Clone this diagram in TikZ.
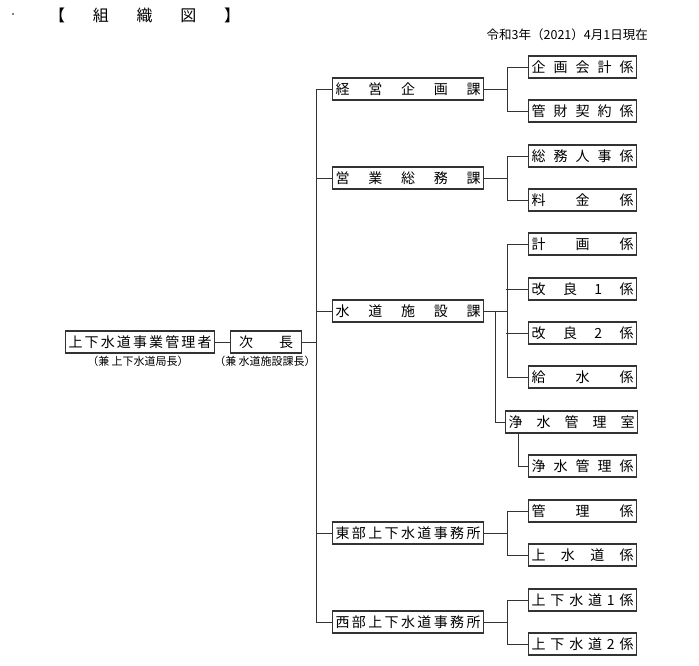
\documentclass[tikz,border=0pt]{standalone}
\usepackage{fontspec}
\usepackage{tikz}
\newfontfamily\jpfont{Noto Sans CJK JP}

\newcommand{\spread}[2]{\makebox[#1][s]{#2}}

\begin{document}
\begin{tikzpicture}[x=1pt,y=-1pt,
  waku/.style={draw=black!80, line width=1.2pt, anchor=west, inner sep=0pt,
    minimum height=22pt, font=\jpfont\fontsize{14}{14}\selectfont},
  ka/.style={waku, minimum width=151pt},
  kakari/.style={waku, minimum width=108pt},
  conn/.style={black!80, line width=1pt}]
\useasboundingbox (0,0) rectangle (699,665);

% 見出し
\fill (13,14) circle (0.8pt);
\node[anchor=west, inner sep=0pt, font=\jpfont\fontsize{16}{16}\selectfont] (title) at (49,15)
  {\spread{191pt}{【\hfill 組\hfill 織\hfill 図\hfill 】}};
\node[anchor=east, inner sep=0pt, font=\jpfont\fontsize{12.5}{12.5}\selectfont] (date) at (648,35)
  {令和3年（2021）4月1日現在};

% 左側
\node[waku, minimum width=149pt] (kanri0) at (65,342)
  {\spread{143pt}{上\hfill 下\hfill 水\hfill 道\hfill 事\hfill 業\hfill 管\hfill 理\hfill 者}};
\node[waku, minimum width=71pt] (jicho) at (230,342) {\spread{54pt}{次\hfill 長}};
\node[inner sep=0pt, font=\jpfont\fontsize{11}{11}\selectfont] (ken1) at (138,361) {（兼 上下水道局長）};
\node[inner sep=0pt, font=\jpfont\fontsize{11}{11}\selectfont] (ken2) at (265,361) {（兼 水道施設課長）};

% 課
\node[ka] (keiei) at (332,89) {\spread{145pt}{経\hfill 営\hfill 企\hfill 画\hfill 課}};
\node[ka] (eigyo) at (332,178) {\spread{145pt}{営\hfill 業\hfill 総\hfill 務\hfill 課}};
\node[ka] (shisetsu) at (332,311) {\spread{145pt}{水\hfill 道\hfill 施\hfill 設\hfill 課}};
\node[ka] (tobu) at (332,533) {\spread{145pt}{東\hfill 部\hfill 上\hfill 下\hfill 水\hfill 道\hfill 事\hfill 務\hfill 所}};
\node[ka] (seibu) at (332,622) {\spread{145pt}{西\hfill 部\hfill 上\hfill 下\hfill 水\hfill 道\hfill 事\hfill 務\hfill 所}};

% 係
\node[kakari] (kikaku) at (528,67) {\spread{102pt}{企\hfill 画\hfill 会\hfill 計\hfill 係}};
\node[kakari] (kanzai) at (528,111) {\spread{102pt}{管\hfill 財\hfill 契\hfill 約\hfill 係}};
\node[kakari] (somu) at (528,156) {\spread{102pt}{総\hfill 務\hfill 人\hfill 事\hfill 係}};
\node[kakari] (ryokin) at (528,200) {\spread{102pt}{料\hfill 金\hfill 係}};
\node[kakari] (keikaku) at (528,244) {\spread{102pt}{計\hfill 画\hfill 係}};
\node[kakari] (kairyo1) at (528,289) {\spread{102pt}{改\hfill 良\hfill 1\hfill 係}};
\node[kakari] (kairyo2) at (528,333) {\spread{102pt}{改\hfill 良\hfill 2\hfill 係}};
\node[kakari] (kyusui) at (528,377) {\spread{102pt}{給\hfill 水\hfill 係}};
\node[waku, minimum width=132pt] (josuishitsu) at (505,422) {\spread{126pt}{浄\hfill 水\hfill 管\hfill 理\hfill 室}};
\node[kakari] (josuikakari) at (528,466) {\spread{102pt}{浄\hfill 水\hfill 管\hfill 理\hfill 係}};
\node[kakari] (kanri) at (528,511) {\spread{102pt}{管\hfill 理\hfill 係}};
\node[kakari] (josui) at (528,555) {\spread{102pt}{上\hfill 水\hfill 道\hfill 係}};
\node[kakari] (gesui1) at (528,600) {\spread{102pt}{上\hfill 下\hfill 水\hfill 道\hfill 1\hfill 係}};
\node[kakari] (gesui2) at (528,644) {\spread{102pt}{上\hfill 下\hfill 水\hfill 道\hfill 2\hfill 係}};

% ========== 連線 ==========
\coordinate (bus) at (316,342);
\draw[conn] (kanri0) -- (jicho);
\draw[conn] (jicho) -- (bus);
\draw[conn] (keiei.west) -- ++(-16,0) |- (seibu.west);
\draw[conn] (eigyo.west) -- ++(-16,0);
\draw[conn] (shisetsu.west) -- ++(-16,0);
\draw[conn] (tobu.west) -- ++(-16,0);

% 課 -> 係
\draw[conn] (keiei.east) -- ++(23,0) |- (kikaku.west);
\draw[conn] (keiei.east) -- ++(23,0) |- (kanzai.west);

\draw[conn] (eigyo.east) -- ++(23,0) |- (somu.west);
\draw[conn] (eigyo.east) -- ++(23,0) |- (ryokin.west);

\draw[conn] (shisetsu.east) -- ++(23,0) |- (keikaku.west);
\draw[conn] (shisetsu.east) -- ++(23,0) |- (kyusui.west);
\draw[conn] (kairyo1.west) -- ++(-22,0);
\draw[conn] (kairyo2.west) -- ++(-22,0);
\draw[conn] (shisetsu.east) -- ++(11,0) |- (josuishitsu.west);
\draw[conn] ([xshift=13pt]josuishitsu.south west) |- (josuikakari.west);

\draw[conn] (tobu.east) -- ++(23,0) |- (kanri.west);
\draw[conn] (tobu.east) -- ++(23,0) |- (josui.west);

\draw[conn] (seibu.east) -- ++(23,0) |- (gesui1.west);
\draw[conn] (seibu.east) -- ++(23,0) |- (gesui2.west);
\end{tikzpicture}
\end{document}
